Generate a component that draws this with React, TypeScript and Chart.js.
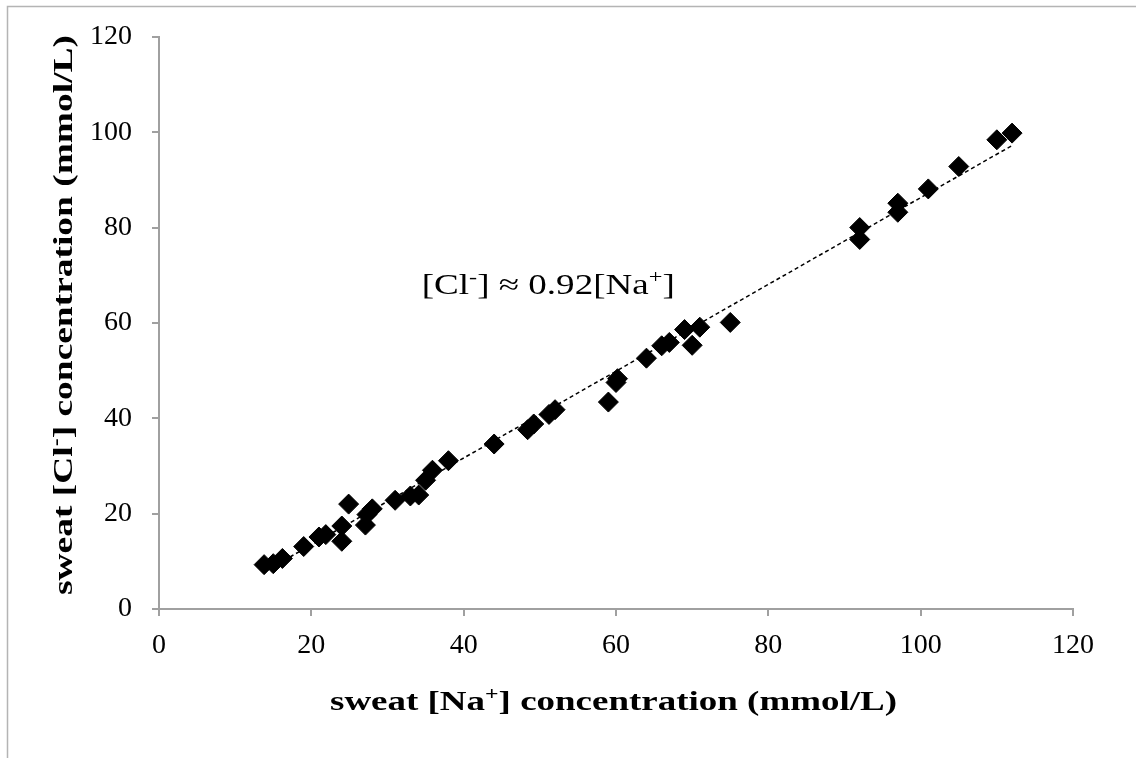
import React, { useEffect, useRef } from "react";
import { Chart, registerables } from "chart.js";

Chart.register(...registerables);

// sweat sodium (x) and chloride (y) concentrations, mmol/L
const naValues = [
  13.8, 15.0, 16.2, 19.0, 21.0, 21.9, 24.0, 24.0, 24.9, 27.1, 27.3, 28.0, 31.0, 33.0, 34.1,
  35.0, 35.9, 38.0, 44.0, 48.4, 49.2, 51.2, 52.0, 59.0, 60.0, 60.2, 64.0, 66.0, 67.0, 69.0,
  70.0, 71.0, 75.0, 92.0, 92.0, 97.0, 97.0, 101.0, 105.0, 110.0, 112.0,
];
const clValues = [
  9.3, 9.5, 10.6, 13.1, 15.1, 15.6, 14.2, 17.4, 22.0, 17.6, 19.8, 21.0, 22.8, 23.7, 23.9,
  27.0, 29.1, 31.1, 34.6, 37.6, 38.8, 40.8, 41.8, 43.4, 47.5, 48.3, 52.6, 55.2, 55.9, 58.6,
  55.3, 59.1, 60.1, 80.0, 77.5, 85.1, 83.2, 88.1, 92.8, 98.4, 99.8,
];

// dashed linear trend line endpoints
const trendNa = [14, 112];
const trendCl = [8.0, 97.2];

const xTicks = [0, 20, 40, 60, 80, 100, 120];
const yTicks = [0, 20, 40, 60, 80, 100, 120];

type Seg = { t: string; sup?: boolean };
const xTitle: Seg[] = [{ t: "sweat [Na" }, { t: "+", sup: true }, { t: "] concentration (mmol/L)" }];
const yTitle: Seg[] = [{ t: "sweat [Cl" }, { t: "-", sup: true }, { t: "] concentration (mmol/L)" }];
const eqText: Seg[] = [
  { t: "[Cl" },
  { t: "-", sup: true },
  { t: "] \u2248 0.92[Na" },
  { t: "+", sup: true },
  { t: "]" },
];
const eqAnchor = { x: 51.1, y: 66.1 };

const FAM = '"Liberation Serif", "Times New Roman", serif';
const AXIS_GRAY = "#a0a0a0";

function drawRich(
  ctx: CanvasRenderingContext2D,
  segs: Seg[],
  cx: number,
  baseY: number,
  size: number,
  bold: boolean,
  targetW: number,
  rot: number
) {
  const fontFor = (s: Seg) =>
    `${bold ? "bold " : ""}${s.sup ? Math.round(size * 0.65) : size}px ${FAM}`;
  const widths = segs.map((s) => {
    ctx.font = fontFor(s);
    return ctx.measureText(s.t).width;
  });
  const W = widths.reduce((a, b) => a + b, 0);
  ctx.save();
  ctx.translate(cx, baseY);
  ctx.rotate(rot);
  ctx.scale(targetW > 0 ? targetW / W : 1, 1);
  ctx.fillStyle = "#000";
  ctx.textAlign = "left";
  ctx.textBaseline = "alphabetic";
  let x = -W / 2;
  segs.forEach((s, i) => {
    ctx.font = fontFor(s);
    ctx.fillText(s.t, x, s.sup ? -size * 0.36 : 0);
    x += widths[i];
  });
  ctx.restore();
}

const decorPlugin = {
  id: "decor",
  afterDraw(chart: any) {
    const ctx: CanvasRenderingContext2D = chart.ctx;
    // outer frame
    ctx.save();
    ctx.strokeStyle = "#b4b4b4";
    ctx.lineWidth = 1.5;
    ctx.strokeRect(7.5, 6.5, 1200, 800);
    ctx.restore();
    // axis titles
    drawRich(ctx, xTitle, 613.5, 710, 28, true, 567, 0);
    drawRich(ctx, yTitle, 72, 315, 28, true, 560, -Math.PI / 2);
    // equation annotation
    const xs = chart.scales.x;
    const ys = chart.scales.y;
    drawRich(
      ctx,
      eqText,
      xs.getPixelForValue(eqAnchor.x),
      ys.getPixelForValue(eqAnchor.y),
      29,
      false,
      253,
      0
    );
  },
};

export default function App() {
  const ref = useRef<HTMLCanvasElement | null>(null);

  useEffect(() => {
    if (!ref.current) return;
    const points = naValues.map((v, i) => ({ x: v, y: clValues[i] }));
    const trend = trendNa.map((v, i) => ({ x: v, y: trendCl[i] }));
    const tickFont = { family: FAM, size: 28 };
    const chart = new Chart(ref.current, {
      type: "scatter",
      data: {
        datasets: [
          {
            type: "scatter",
            data: points,
            pointStyle: "rectRot",
            pointRadius: 10,
            pointHoverRadius: 10,
            backgroundColor: "#000",
            borderColor: "#000",
            borderWidth: 1,
            order: 1,
          },
          {
            type: "line",
            data: trend,
            borderColor: "#000",
            borderWidth: 1.5,
            borderDash: [4, 3],
            pointRadius: 0,
            fill: false,
            order: 2,
          } as any,
        ],
      },
      options: {
        animation: false,
        responsive: false,
        layout: { padding: { left: 0, top: 35, right: 63, bottom: 0 } },
        plugins: { legend: { display: false }, tooltip: { enabled: false } },
        scales: {
          x: {
            type: "linear",
            min: 0,
            max: 120,
            afterBuildTicks: (s: any) => {
              s.ticks = xTicks.map((v) => ({ value: v }));
            },
            afterFit: (s: any) => {
              s.height = 149;
            },
            ticks: { font: tickFont, color: "#000", padding: 13, maxRotation: 0, autoSkip: false },
            grid: {
              display: true,
              drawOnChartArea: false,
              drawTicks: true,
              tickLength: 7,
              color: AXIS_GRAY,
              lineWidth: 2,
            },
            border: { display: true, color: AXIS_GRAY, width: 2 },
          },
          y: {
            type: "linear",
            min: 0,
            max: 120,
            afterBuildTicks: (s: any) => {
              s.ticks = yTicks.map((v) => ({ value: v }));
            },
            afterFit: (s: any) => {
              s.width = 159;
            },
            ticks: { font: tickFont, color: "#000", padding: 20, autoSkip: false },
            grid: {
              display: true,
              drawOnChartArea: false,
              drawTicks: true,
              tickLength: 7,
              color: AXIS_GRAY,
              lineWidth: 2,
            },
            border: { display: true, color: AXIS_GRAY, width: 2 },
          },
        },
      },
      plugins: [decorPlugin],
    });
    return () => chart.destroy();
  }, []);

  return (
    <div style={{ position: "absolute", left: 0, top: 0, width: 1136, height: 758, background: "#fff" }}>
      <canvas ref={ref} width={1136} height={758} style={{ display: "block" }} />
    </div>
  );
}
